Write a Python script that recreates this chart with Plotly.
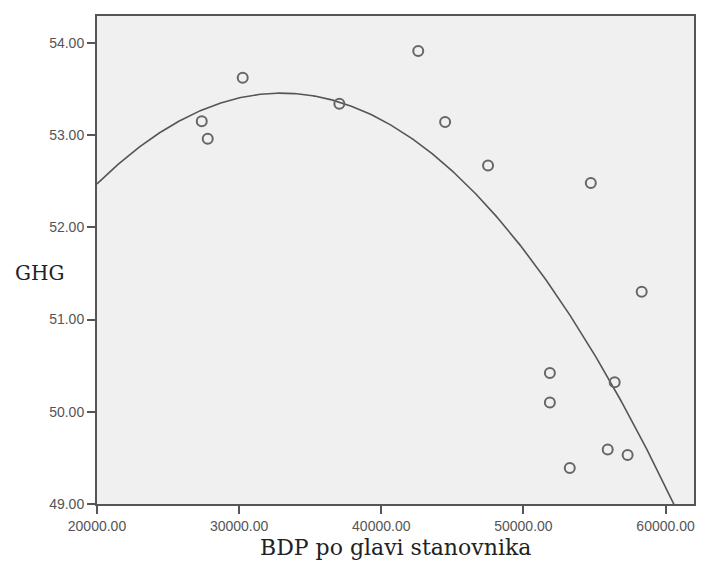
import numpy as np
import plotly.graph_objects as go

# Data
bdp = [27370, 27790, 30250, 37050, 42600, 44490, 47510, 54740,
       58320, 51860, 51860, 56420, 55930, 57330, 53260]
ghg = [53.15, 52.96, 53.62, 53.34, 53.91, 53.14, 52.67, 52.48,
       51.30, 50.42, 50.10, 50.32, 49.59, 49.53, 49.39]

x_ticks = [20000, 30000, 40000, 50000, 60000]
y_ticks = [49, 50, 51, 52, 53, 54]

# Quadratic fit line (as in the reference)
coef = np.polyfit(bdp, ghg, 2)
xf = np.linspace(20000, 62000, 300)
yf = np.polyval(coef, xf)

fig = go.Figure()
fig.add_trace(go.Scatter(x=xf, y=yf, mode="lines",
                         line=dict(color="#555555", width=1.6),
                         hoverinfo="skip", showlegend=False))
fig.add_trace(go.Scatter(x=bdp, y=ghg, mode="markers",
                         marker=dict(symbol="circle-open", size=10,
                                     color="#666666", line=dict(width=2, color="#666666")),
                         showlegend=False))

tickfont = dict(family="Liberation Sans, Arial, sans-serif", size=14, color="#555555")
fig.update_layout(
    width=702, height=572,
    margin=dict(l=97, r=6, t=16, b=68),
    paper_bgcolor="white",
    plot_bgcolor="#f0f0f0",
    xaxis=dict(range=[20000, 62000], tickvals=x_ticks,
               ticktext=[f"{v:.2f}" for v in x_ticks],
               showgrid=False, zeroline=False, ticks="outside", ticklen=8,
               tickcolor="#555555", tickwidth=1.5,
               showline=True, linecolor="#555555", linewidth=2, mirror=True,
               tickfont=tickfont),
    yaxis=dict(range=[49, 54.29], tickvals=y_ticks,
               ticktext=[f"{v:.2f}" for v in y_ticks],
               showgrid=False, zeroline=False, ticks="outside", ticklen=8,
               tickcolor="#555555", tickwidth=1.5,
               showline=True, linecolor="#555555", linewidth=2, mirror=True,
               tickfont=tickfont),
    annotations=[
        dict(text="GHG", xref="paper", yref="paper", x=-0.14, y=0.473,
             xanchor="left", yanchor="middle", showarrow=False,
             font=dict(family="DejaVu Serif, serif", size=20, color="#222222")),
        dict(text="BDP po glavi stanovnika", xref="paper", yref="paper",
             x=0.5, y=-0.09, xanchor="center", yanchor="middle", showarrow=False,
             font=dict(family="DejaVu Serif, serif", size=22, color="#222222")),
    ],
)

fig.write_html("out.html")
